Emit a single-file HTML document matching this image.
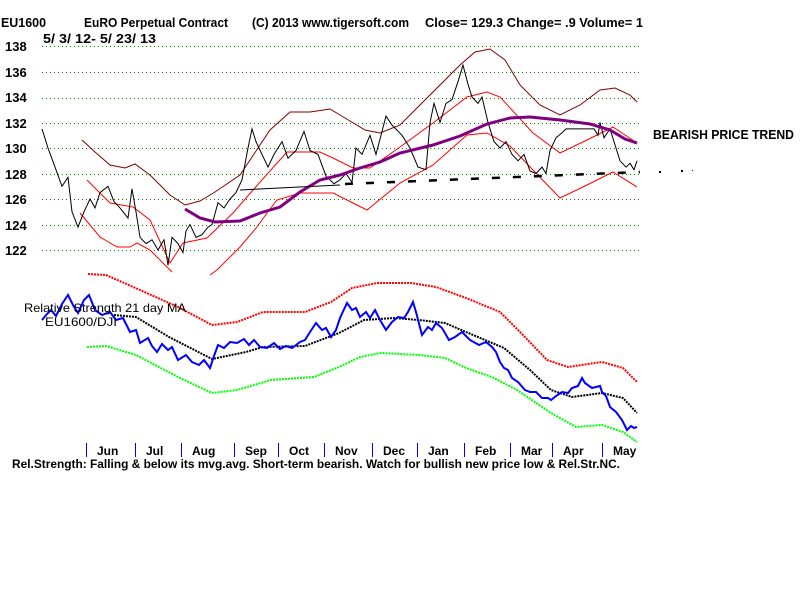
<!DOCTYPE html>
<html><head><meta charset="utf-8"><style>
body{margin:0;background:#fff;width:800px;height:600px;overflow:hidden}
svg text{font-family:"Liberation Sans",Arial,sans-serif;fill:#000}
</style></head><body>
<svg id="s" width="800" height="600" xmlns="http://www.w3.org/2000/svg">
<rect width="800" height="600" fill="#fff"/>
<g font-size="13" font-weight="bold">
<text x="1" y="27" textLength="45" lengthAdjust="spacingAndGlyphs">EU1600</text>
<text x="84" y="27" textLength="144" lengthAdjust="spacingAndGlyphs">EuRO Perpetual Contract</text>
<text x="252" y="27" textLength="157" lengthAdjust="spacingAndGlyphs">(C) 2013 www.tigersoft.com</text>
<text x="425" y="27" textLength="218" lengthAdjust="spacingAndGlyphs">Close=  129.3  Change= .9 Volume= 1</text>
<text x="43" y="43" textLength="113" lengthAdjust="spacingAndGlyphs">5/ 3/ 12- 5/ 23/ 13</text>
</g>
<g font-size="13" font-weight="bold">
<text x="5" y="51">138</text><text x="5" y="77">136</text><text x="5" y="102">134</text>
<text x="5" y="128">132</text><text x="5" y="153">130</text><text x="5" y="179">128</text>
<text x="5" y="204">126</text><text x="5" y="230">124</text><text x="5" y="255">122</text>
<text x="653" y="139" textLength="141" lengthAdjust="spacingAndGlyphs">BEARISH PRICE TREND</text>
</g>
<g id="grid" stroke="#008000" stroke-dasharray="1,3" stroke-width="1"></g>
<g id="lines" fill="none"></g>
<rect x="0" y="272" width="40" height="6" fill="#fff"/>
<g font-size="12">
<text x="24" y="312" textLength="162" lengthAdjust="spacingAndGlyphs">Relative Strength 21 day MA</text>
<text x="45" y="326" textLength="72" lengthAdjust="spacingAndGlyphs">EU1600/DJI</text>
</g>
<g id="ticks" stroke="#0000ff" stroke-width="1"></g>
<g font-size="12" font-weight="bold">
<text x="97" y="455">Jun</text><text x="146" y="455">Jul</text><text x="192" y="455">Aug</text>
<text x="245" y="455">Sep</text><text x="289" y="455">Oct</text><text x="335" y="455">Nov</text>
<text x="383" y="455">Dec</text><text x="428" y="455">Jan</text><text x="475" y="455">Feb</text>
<text x="521" y="455">Mar</text><text x="563" y="455">Apr</text><text x="613" y="455">May</text>
<text x="12" y="468" textLength="608" lengthAdjust="spacingAndGlyphs">Rel.Strength: Falling &amp; below its mvg.avg. Short-term bearish. Watch for bullish new price low &amp; Rel.Str.NC.</text>
</g>
<g fill="#000"><rect x="659" y="171" width="2" height="2"/><rect x="681" y="170" width="2" height="2"/><rect x="692" y="170" width="1" height="1"/></g>
</svg>
<script>
var NS="http://www.w3.org/2000/svg";
function el(p,t,a){var e=document.createElementNS(NS,t);for(var k in a)e.setAttribute(k,a[k]);document.getElementById(p).appendChild(e);return e;}
[46,72,98,123,148,174,199,225,250].forEach(function(y){el("grid","line",{x1:42,x2:640,y1:y+0.5,y2:y+0.5});});
[86,135,181,234,278,324,372,417,464,510,552,602].forEach(function(x){el("ticks","line",{x1:x+0.5,x2:x+0.5,y1:443,y2:457});});
function py(p){return 46+(138-p)*12.75;}
function pl(pts,st,w,dash){var a=el("lines","polyline",{points:pts.map(function(q){return q[0]+","+q[1]}).join(" "),stroke:st,"stroke-width":w});if(dash)a.setAttribute("stroke-dasharray",dash);}
var price=[[42,131.5],[48,130],[55,128.5],[62,127],[68,127.7],[72,125],[78,123.8],[84,125],[90,126],[95,125.3],[100,126.5],[108,127],[114,125.8],[120,125.3],[128,124.5],[132,126.8],[136,125],[140,123],[146,122.5],[152,122.8],[158,122],[164,122.8],[168,120.8],[172,123],[178,122.5],[183,121.8],[186,123.5],[190,124],[196,123],[202,123.2],[208,123.8],[212,124],[218,125.7],[224,125.3],[230,126],[236,126.5],[242,127.5],[248,130],[252,131.5],[256,130.5],[262,129.5],[268,128.5],[274,129.5],[282,130.5],[288,129.2],[296,129.8],[304,131.3],[310,129.8],[318,129.5],[326,127.8],[334,127.2],[340,127.5],[346,128],[352,127.3],[356,130],[362,129.5],[370,131],[376,129.5],[386,132.5],[392,131.8],[402,131],[410,130],[418,128.5],[426,128.3],[430,132],[434,133.5],[440,132],[446,133.5],[452,133.8],[458,135.2],[463,136.5],[468,135],[472,134],[478,133.5],[482,134],[488,132],[494,130.5],[500,130],[506,130.5],[512,129.5],[518,129],[524,129.5],[530,128.2],[536,128],[542,128.5],[546,128],[550,129.8],[556,130.8],[562,131.2],[566,131.5],[574,131.5],[594,131.5],[598,131],[600,132],[604,130.8],[610,131.5],[616,130],[620,129],[626,128.5],[630,128.8],[634,128.3],[637,129]].map(function(q){return [q[0],py(q[1]).toFixed(1)];});
pl([[82,140],[95,152],[110,165],[125,168],[135,164],[150,175],[170,195],[185,205],[200,201],[215,192],[240,175],[270,130],[290,112],[310,112],[330,109],[345,118],[365,130],[380,133],[400,125],[430,95],[460,65],[475,52],[490,49],[505,60],[520,85],[540,105],[560,115],[580,105],[600,90],[615,88],[630,95],[637,102]],"#800000",1);
pl([[87,180],[110,203],[133,207],[150,220],[170,263],[183,243],[207,238],[233,213],[253,190],[287,152],[320,152],[333,158],[353,168],[370,168],[400,147],[433,123],[467,97],[487,92],[500,97],[533,133],[560,153],[587,140],[613,127],[637,143]],"#ff0000",1);
pl([[80,213],[100,237],[117,247],[130,247],[137,243],[150,250],[172,272]],"#ff0000",1);
pl([[210,275],[217,270],[240,247],[257,227],[267,213],[277,200],[300,193],[333,193],[353,203],[367,210],[400,183],[433,165],[467,135],[487,133],[510,146],[533,170],[560,198],[587,185],[613,172],[637,187]],"#ff0000",1);
pl(price,"#000",1);
pl([[185,209],[200,218],[215,222],[240,221],[260,213],[280,207],[300,192],[320,180],[340,175],[360,168],[380,162],[400,153],[433,145],[460,136],[487,124],[510,118],[530,117],[560,120],[590,124],[610,130],[625,139],[637,143]],"#800080",3);
pl([[240,190],[340,185]],"#000",1);
pl([[345,184],[640,172]],"#000",2.5,"8,13");
pl([[88,274],[106,275],[140,290],[178,307],[212,325],[237,322],[263,312],[305,312],[331,302],[352,288],[377,283],[411,283],[436,287],[466,298],[500,312],[521,333],[547,360],[568,367],[602,362],[623,368],[637,382]],"#ff0000",2,"2,1");
pl([[87,347],[106,346],[136,355],[178,377],[212,393],[237,390],[271,380],[314,377],[339,367],[360,357],[381,353],[419,355],[445,358],[466,368],[492,377],[517,390],[551,413],[576,427],[602,425],[623,432],[637,442]],"#00ff00",2,"2,1");
pl([[114,315],[136,317],[169,337],[212,359],[246,352],[263,347],[305,346],[339,333],[364,320],[394,318],[419,320],[445,323],[466,332],[504,348],[530,370],[551,390],[572,397],[602,393],[623,398],[637,413]],"#000",2,"2,1");
pl([[42,320],[47,314],[51,310],[56,316],[62,304],[68,295],[73,305],[78,313],[84,300],[89,295],[95,310],[102,315],[110,312],[116,320],[123,318],[130,332],[136,330],[140,343],[148,338],[152,346],[157,352],[162,344],[168,350],[172,347],[178,360],[186,355],[192,362],[199,365],[204,360],[210,368],[214,356],[218,345],[224,348],[230,342],[237,343],[244,339],[249,345],[254,340],[260,347],[267,348],[274,343],[280,349],[286,346],[292,348],[300,342],[305,340],[310,332],[316,323],[322,330],[326,328],[331,337],[336,330],[340,318],[347,303],[352,310],[356,308],[360,317],[366,312],[370,318],[375,310],[380,320],[386,330],[392,322],[398,317],[404,318],[408,312],[413,302],[416,312],[422,335],[428,327],[432,330],[436,323],[442,328],[449,340],[455,337],[462,332],[470,340],[479,345],[486,342],[492,347],[496,352],[500,362],[504,368],[508,370],[512,378],[518,382],[525,390],[530,392],[536,392],[542,398],[548,398],[551,400],[556,396],[562,392],[568,393],[572,388],[578,386],[582,378],[585,383],[592,388],[600,386],[602,392],[606,396],[610,407],[616,412],[622,420],[627,430],[631,426],[634,428],[637,427]],"#0000ff",2);
</script>
</body></html>
